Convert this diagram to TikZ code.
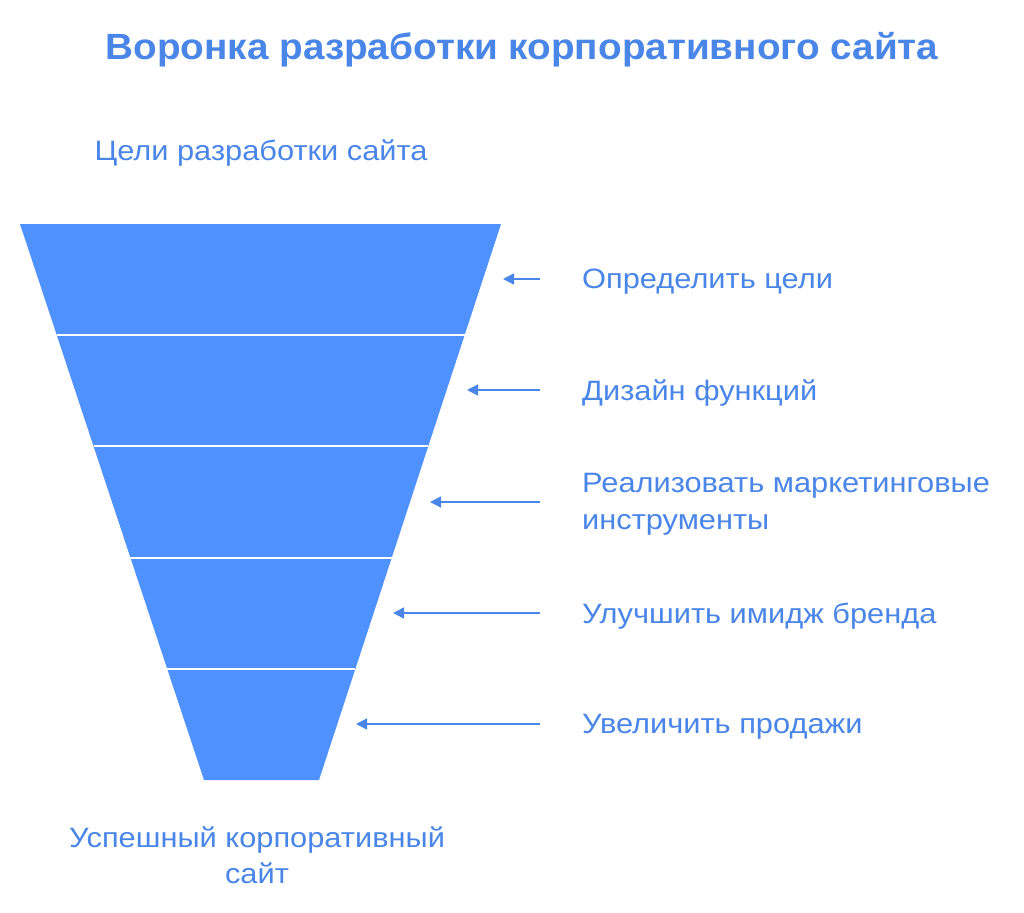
\documentclass[tikz,border=0pt]{standalone}
\usepackage{fontspec}
\setmainfont{Liberation Sans}
\newfontfamily\widefont[FakeStretch=1.1]{Liberation Sans}
\newfontfamily\widebold[FakeStretch=1.06]{Liberation Sans Bold}
\usetikzlibrary{arrows.meta,calc}
\definecolor{txtblue}{HTML}{4A86E8}
\definecolor{funnelblue}{HTML}{4F92FF}
\tikzset{
  lbl/.style={text=txtblue, font=\widefont\fontsize{28}{37}\selectfont, inner sep=0pt, anchor=west, align=left},
  captxt/.style={text=txtblue, font=\widefont\fontsize{28}{36}\selectfont, inner sep=0pt, align=center},
  ttl/.style={text=txtblue, font=\widebold\fontsize{36.5}{40}\selectfont, inner sep=0pt},
  arr/.style={draw=txtblue, line width=1.5pt, -{Triangle[length=11pt,width=11pt]}},
  sepline/.style={draw=white, line width=2pt}
}
\begin{document}
\begin{tikzpicture}[x=1pt,y=-1pt]
\useasboundingbox (0,0) rectangle (1024,912);
\fill[white] (0,0) rectangle (1024,912);
% funnel
\coordinate (TL) at (20,224);
\coordinate (TR) at (501,224);
\coordinate (BR) at (319,780);
\coordinate (BL) at (204,780);
\fill[funnelblue] (TL) -- (TR) -- (BR) -- (BL) -- cycle;
\foreach \i in {1,2,3,4}{
  \draw[sepline] ($(TL)!\i/5!(BL)$) -- ($(TR)!\i/5!(BR)$);
}
% title & captions
\node[ttl, anchor=base] (title) at (522,60) {Воронка разработки корпоративного сайта};
\node[captxt] (top) at (261,153) {Цели разработки сайта};
\node[captxt] (bottom) at (257,855) {Успешный корпоративный\\сайт};
% labels
\node[lbl] (l1) at (582,282) {Определить цели};
\node[lbl] (l2) at (582,393) {Дизайн функций};
\node[lbl] (l3) at (582,504) {Реализовать маркетинговые\\инструменты};
\node[lbl] (l4) at (582,616) {Улучшить имидж бренда};
\node[lbl] (l5) at (582,727) {Увеличить продажи};
% arrows
\coordinate (s1) at (540,279); \coordinate (t1) at (503,279);
\coordinate (s2) at (540,390); \coordinate (t2) at (467,390);
\coordinate (s3) at (540,502); \coordinate (t3) at (430,502);
\coordinate (s4) at (540,613); \coordinate (t4) at (393,613);
\coordinate (s5) at (540,724); \coordinate (t5) at (356,724);
\foreach \i in {1,...,5}{ \draw[arr] (s\i) -- (t\i); }
\end{tikzpicture}
\end{document}
